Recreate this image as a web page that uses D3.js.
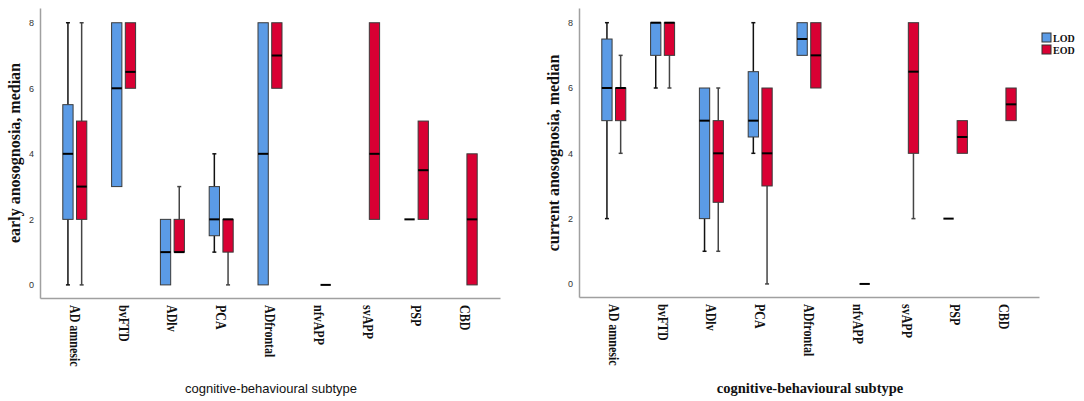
<!DOCTYPE html>
<html><head><meta charset="utf-8">
<script src="https://cdn.jsdelivr.net/npm/d3@7"></script>
<style>body{margin:0;background:#fff}svg{display:block}</style>
</head><body><svg id="c" width="1084" height="401"></svg>
<script>
const categories = ["AD amnesic","bvFTD","ADlv","PCA","ADfrontal","nfvAPP","svAPP","PSP","CBD"];
const series = ["LOD","EOD"];
const yTicks = [0,2,4,6,8];

// early anosognosia
const early_LOD_min = [0,3,0,1,0,null,null,2,null];
const early_LOD_q1  = [2,3,0,1.5,0,null,null,2,null];
const early_LOD_med = [4,6,1,2,4,null,null,2,null];
const early_LOD_q3  = [5.5,8,2,3,8,null,null,2,null];
const early_LOD_max = [8,8,2,4,8,null,null,2,null];
const early_EOD_min = [0,6,1,0,6,0,2,2,0];
const early_EOD_q1  = [2,6,1,1,6,0,2,2,0];
const early_EOD_med = [3,6.5,1,2,7,0,4,3.5,2];
const early_EOD_q3  = [5,8,2,2,8,0,8,5,4];
const early_EOD_max = [8,8,3,2,8,0,8,5,4];

// current anosognosia
const current_LOD_min = [2,6,1,4,7,null,null,2,null];
const current_LOD_q1  = [5,7,2,4.5,7,null,null,2,null];
const current_LOD_med = [6,8,5,5,7.5,null,null,2,null];
const current_LOD_q3  = [7.5,8,6,6.5,8,null,null,2,null];
const current_LOD_max = [8,8,6,8,8,null,null,2,null];
const current_EOD_min = [4,6,1,0,6,0,2,4,5];
const current_EOD_q1  = [5,7,2.5,3,6,0,4,4,5];
const current_EOD_med = [6,8,4,4,7,0,6.5,4.5,5.5];
const current_EOD_q3  = [6,8,5,6,8,0,8,5,6];
const current_EOD_max = [7,8,6,6,8,0,8,5,6];

const colors = {LOD:"#5b9be6", EOD:"#d90033"};
const whiskerColor = {LOD:"#111", EOD:"#444"};

function build(min,q1,med,q3,max,s){
  return categories.map((c,i)=>({cat:c,s:s,min:min[i],q1:q1[i],med:med[i],q3:q3[i],max:max[i]})).filter(d=>d.med!==null);
}

const svg = d3.select("#c");

function panel(opts){
  const g = svg.append("g");
  const x = d3.scaleBand().domain(categories).range([opts.left, opts.left+460]).paddingInner(0).paddingOuter(0.213);
  const xs = d3.scaleBand().domain(series).range([-12,12]).paddingInner(0.25);
  const y = d3.scaleLinear().domain([-0.4,8.45]).range([opts.bottom, 8]);

  // y axis
  const ya = g.append("g").attr("transform",`translate(${opts.left},0)`)
    .call(d3.axisLeft(y).tickValues(yTicks).tickSize(0).tickPadding(6).tickFormat(d3.format("d")));
  ya.select(".domain").attr("stroke","#a0a0a0").attr("stroke-width",1.5);
  ya.selectAll("text").attr("font-family","Liberation Sans, Arial, sans-serif").attr("font-size",9).attr("fill","#333");

  // x axis
  const xa = g.append("g").attr("transform",`translate(0,${opts.bottom})`)
    .call(d3.axisBottom(x).tickSize(0).tickSizeOuter(0).tickFormat(""));
  xa.select(".domain").attr("stroke","#a0a0a0").attr("stroke-width",1.5);
  xa.selectAll(".tick").append("text")
      .attr("transform","translate(0,7) rotate(90) scale(1,1.25)")
      .attr("dy","0.33em").attr("text-anchor","start")
      .attr("font-family","Liberation Serif, Times New Roman, serif").attr("font-weight","bold")
      .attr("font-size",12).attr("fill","#111").text(d=>d);

  const data = opts.data;
  const cx = d=> x(d.cat)+x.bandwidth()/2 + xs(d.s);
  const bw = xs.bandwidth();
  const grp = g.append("g").selectAll("g").data(data).join("g");
  // whiskers
  grp.filter(d=>d.min<d.q1).append("line")
    .attr("x1",d=>cx(d)+bw/2).attr("x2",d=>cx(d)+bw/2)
    .attr("y1",d=>y(d.min)).attr("y2",d=>y(d.q1))
    .attr("stroke",d=>whiskerColor[d.s]).attr("stroke-width",1.5);
  grp.filter(d=>d.min<d.q1).append("line")
    .attr("x1",d=>cx(d)+bw/2-2).attr("x2",d=>cx(d)+bw/2+2)
    .attr("y1",d=>y(d.min)).attr("y2",d=>y(d.min))
    .attr("stroke",d=>whiskerColor[d.s]).attr("stroke-width",1.5);
  grp.filter(d=>d.max>d.q3).append("line")
    .attr("x1",d=>cx(d)+bw/2).attr("x2",d=>cx(d)+bw/2)
    .attr("y1",d=>y(d.max)).attr("y2",d=>y(d.q3))
    .attr("stroke",d=>whiskerColor[d.s]).attr("stroke-width",1.5);
  grp.filter(d=>d.max>d.q3).append("line")
    .attr("x1",d=>cx(d)+bw/2-2).attr("x2",d=>cx(d)+bw/2+2)
    .attr("y1",d=>y(d.max)).attr("y2",d=>y(d.max))
    .attr("stroke",d=>whiskerColor[d.s]).attr("stroke-width",1.5);
  // boxes
  grp.filter(d=>d.q3>d.q1).append("rect")
    .attr("x",d=>cx(d)).attr("width",bw)
    .attr("y",d=>y(d.q3)).attr("height",d=>y(d.q1)-y(d.q3))
    .attr("fill",d=>colors[d.s]).attr("stroke","#3a3a3a").attr("stroke-width",1);
  // median
  grp.append("line")
    .attr("x1",d=>cx(d)).attr("x2",d=>cx(d)+bw)
    .attr("y1",d=>y(d.med)).attr("y2",d=>y(d.med))
    .attr("stroke","#000").attr("stroke-width",2);

  // y title
  g.append("text").attr("transform",`translate(${opts.ytx},153) rotate(-90)`)
    .attr("text-anchor","middle").attr("dy","0.35em")
    .attr("font-family","Liberation Serif, Times New Roman, serif").attr("font-weight","bold")
    .attr("font-size",16).attr("fill","#111").text(opts.ytitle);
  // x title
  const xt = g.append("text").attr("x",opts.left+231).attr("y",393)
    .attr("text-anchor","middle").attr("fill","#111").text("cognitive-behavioural subtype");
  if(opts.serifX){
    xt.attr("font-family","Liberation Serif, Times New Roman, serif").attr("font-weight","bold").attr("font-size",14.5);
  } else {
    xt.attr("font-family","Liberation Sans, Arial, sans-serif").attr("font-size",13);
  }
}

panel({left:40,bottom:298,ytx:14,ytitle:"early anosognosia, median",serifX:false,
  data: build(early_LOD_min,early_LOD_q1,early_LOD_med,early_LOD_q3,early_LOD_max,"LOD")
    .concat(build(early_EOD_min,early_EOD_q1,early_EOD_med,early_EOD_q3,early_EOD_max,"EOD"))});
panel({left:579,bottom:297,ytx:553,ytitle:"current anosognosia, median",serifX:true,
  data: build(current_LOD_min,current_LOD_q1,current_LOD_med,current_LOD_q3,current_LOD_max,"LOD")
    .concat(build(current_EOD_min,current_EOD_q1,current_EOD_med,current_EOD_q3,current_EOD_max,"EOD"))});

// legend
const lg = svg.append("g").attr("transform","translate(1042,33)");
const li = lg.selectAll("g").data(series).join("g").attr("transform",(d,i)=>`translate(0,${i*12})`);
li.append("rect").attr("width",9).attr("height",9).attr("fill",d=>colors[d]).attr("stroke","#333").attr("stroke-width",1);
li.append("text").attr("x",11).attr("y",8.5).attr("font-family","Liberation Serif, Times New Roman, serif")
  .attr("font-weight","bold").attr("font-size",10).attr("fill","#111").text(d=>d);
</script></body></html>
